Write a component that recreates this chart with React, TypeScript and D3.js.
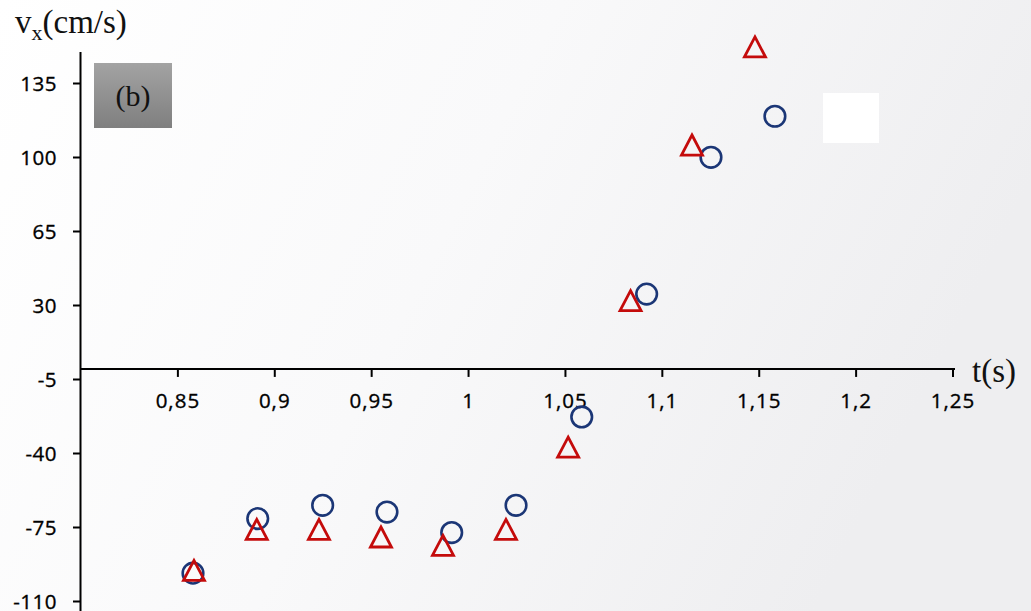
import React from "react";
import * as d3 from "d3";

const circleT = [0.8578, 0.8912, 0.9247, 0.9579, 0.9913, 1.0245, 1.0584, 1.0919, 1.1251, 1.1581];
const circleV = [-96.6, -70.8, -64.5, -67.7, -77.4, -64.5, -22.7, 35.4, 100.1, 119.5];
const triT = [0.8583, 0.8907, 0.9228, 0.9548, 0.9868, 1.0193, 1.0514, 1.0836, 1.1153, 1.1478];
const triV = [-95.3, -75.9, -75.9, -79.5, -83.5, -75.9, -37.0, 32.3, 105.9, 152.3];
const xTicks = [0.85, 0.9, 0.95, 1, 1.05, 1.1, 1.15, 1.2, 1.25];
const xTickLabels = ["0,85", "0,9", "0,95", "1", "1,05", "1,1", "1,15", "1,2", "1,25"];
const yTicks = [135, 100, 65, 30, -5, -40, -75, -110];

const W = 1031;
const H = 611;

export default function App() {
  const x = d3.scaleLinear().domain([0.8, 1.25]).range([81, 953]);
  const y = d3.scaleLinear().domain([-110, 135]).range([601.5, 83.5]);
  const axisX = 80.5;
  const y0 = y(0);
  const triPath = (cx: number, cy: number) => {
    const w = 21, h = 20;
    return `M${cx},${cy - h / 2}L${cx + w / 2},${cy + h / 2}L${cx - w / 2},${cy + h / 2}Z`;
  };
  const tickFont = "'Open Sans', 'Liberation Sans', sans-serif";
  const serif = "'Liberation Serif', 'Times New Roman', serif";
  return (
    <svg width={W} height={H} style={{ position: "absolute", left: 0, top: 0, display: "block" }}>
      <defs>
        <linearGradient id="bg" x1="0" y1="0" x2="1" y2="0.3">
          <stop offset="0" stopColor="#ffffff" />
          <stop offset="0.5" stopColor="#f9f9fa" />
          <stop offset="1" stopColor="#eeeef0" />
        </linearGradient>
        <linearGradient id="box" x1="0" y1="0" x2="0" y2="1">
          <stop offset="0" stopColor="#a3a3a3" />
          <stop offset="1" stopColor="#7f7f7f" />
        </linearGradient>
      </defs>
      <rect x={0} y={0} width={W} height={H} fill="url(#bg)" />
      <rect x={823} y={93} width={56} height={50} fill="#ffffff" />

      {/* y axis */}
      <line x1={axisX} x2={axisX} y1={52} y2={611} stroke="#000" strokeWidth={2} />
      {yTicks.map((t) => (
        <g key={t}>
          <line x1={73} x2={axisX} y1={y(t)} y2={y(t)} stroke="#000" strokeWidth={2} />
          <text x={57} y={y(t) + 7} textAnchor="end" fontFamily={tickFont} fontSize={20.5} letterSpacing={0.5} fill="#000" stroke="#000" strokeWidth={0.35}>
            {t}
          </text>
        </g>
      ))}

      {/* x axis */}
      <line x1={axisX} x2={955} y1={y0} y2={y0} stroke="#000" strokeWidth={2} />
      {xTicks.map((t, i) => (
        <g key={t}>
          <line x1={x(t)} x2={x(t)} y1={y0} y2={y0 + 8} stroke="#000" strokeWidth={2} />
          <text x={x(t)} y={408} textAnchor="middle" fontFamily={tickFont} fontSize={20.5} letterSpacing={1} fill="#000" stroke="#000" strokeWidth={0.35}>
            {xTickLabels[i]}
          </text>
        </g>
      ))}

      {/* axis titles */}
      <text x={15} y={33} fontFamily={serif} fontSize={33} fill="#111">
        v
        <tspan fontSize={22} dy={7}>x</tspan>
        <tspan dy={-7}>(cm/s)</tspan>
      </text>
      <text x={972} y={382} fontFamily={serif} fontSize={33} fill="#111">
        t(s)
      </text>

      {/* (b) box */}
      <rect x={94} y={63} width={78} height={65} fill="url(#box)" />
      <text x={133} y={106} textAnchor="middle" fontFamily={serif} fontSize={30} fill="#111">
        (b)
      </text>

      {/* data */}
      {circleT.map((t, i) => (
        <circle key={"c" + i} cx={x(t)} cy={y(circleV[i])} r={10.3} fill="none" stroke="#1b3676" strokeWidth={2.6} />
      ))}
      {triT.map((t, i) => (
        <path key={"t" + i} d={triPath(x(t), y(triV[i]))} fill="none" stroke="#c40b0b" strokeWidth={2.8} strokeLinejoin="miter" />
      ))}
    </svg>
  );
}
